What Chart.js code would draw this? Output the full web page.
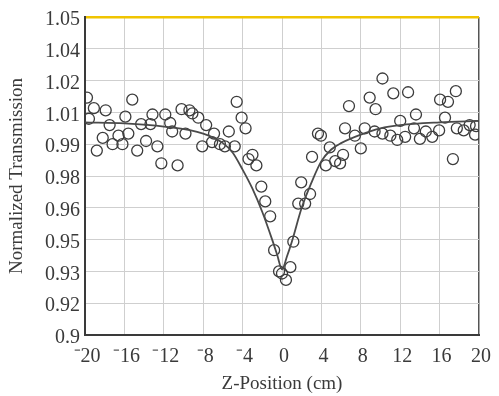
<!DOCTYPE html>
<html lang="en">
<head>
  <meta charset="UTF-8" />
  <title>Normalized Transmission vs Z-Position</title>
  <script src="https://cdn.jsdelivr.net/npm/chart.js"></script>
  <style>
    body {
      margin: 0;
      background-color: #ffffff;
    }
    canvas {
      display: block;
    }
  </style>
</head>
<body>

  <canvas id="zscanChart" width="499" height="396"></canvas>

  <script>
    // measured points (open circles)
    const zData = [
      -19.8, -19.1, -17.9, -19.6, -15.2, -15.9, -17.5, -18.2, -18.8, -17.2,
      -16.6, -16.2, -15.6, -14.7, -14.3, -13.8, -13.15, -13.35, -12.65, -12.25,
      -11.85, -11.35, -11.15, -10.6, -10.2, -9.8, -9.4, -9.1, -8.5, -7.7,
      -8.1, -6.9, -7.1, -6.3, -5.8, -5.4, -4.8, -4.6, -4.1, -3.7,
      -3.0, -3.4, -2.6, -2.1, -1.7, -1.2, -0.8, -0.3, 0.0, 0.4,
      0.85, 1.15, 1.65, 2.35, 2.85, 1.95, 3.05, 3.65, 3.95, 4.45,
      4.85, 5.4, 5.9, 6.2, 6.4, 6.8, 7.4, 8.0, 8.4, 8.9,
      9.4, 9.5, 10.2, 10.2, 11.0, 11.3, 11.7, 12.0, 12.5, 12.8,
      13.4, 13.6, 14.0, 14.6, 15.25, 15.95, 16.05, 16.85, 17.65, 16.55,
      17.35, 17.75, 18.45, 19.05, 19.6, 19.7
    ];
    const tData = [
      1.012, 1.007, 1.006, 1.002, 1.011, 1.003, 0.999, 0.993, 0.987, 0.990,
      0.994, 0.990, 0.995, 0.987, 0.9995, 0.9915, 1.004, 0.9995, 0.989, 0.981,
      1.004, 1.000, 0.996, 0.980, 1.0065, 0.995, 1.006, 1.0045, 1.0025, 0.999,
      0.989, 0.995, 0.991, 0.990, 0.989, 0.996, 0.989, 1.010, 1.0025, 0.9975,
      0.985, 0.983, 0.980, 0.970, 0.963, 0.956, 0.940, 0.930, 0.929, 0.926,
      0.932, 0.944, 0.962, 0.962, 0.9665, 0.972, 0.984, 0.995, 0.994, 0.980,
      0.9885, 0.982, 0.981, 0.985, 0.9975, 1.008, 0.994, 0.988, 0.9975, 1.012,
      0.996, 1.0065, 1.021, 0.995, 0.994, 1.014, 0.992, 1.001, 0.9935, 1.0145,
      0.9975, 1.004, 0.9925, 0.996, 0.9935, 0.9965, 1.011, 1.010, 1.015, 1.0025,
      0.983, 0.9975, 0.9965, 0.999, 0.9945, 0.9985
    ];

    // fitted curve
    const zFit = [-20, -16, -12, -8, -6, -5, -4, -3, -2, -1, -0.5, 0, 0.5, 1, 2, 3, 4, 5, 6, 8, 10, 12, 16, 20];
    const tFit = [1.0003, 0.9998, 0.9983, 0.995, 0.9905, 0.986, 0.978, 0.969, 0.958, 0.945, 0.938, 0.931,
                  0.937, 0.944, 0.960, 0.972, 0.982, 0.9875, 0.9905, 0.9945, 0.9975, 0.999, 1.0003, 1.001];

    const xTickLabels = ['\u207B20', '\u207B16', '\u207B12', '\u207B8', '\u207B4', '0', '4', '8', '12', '16', '20'];
    const yTickLabels = ['0.9', '0.92', '0.93', '0.95', '0.96', '0.98', '0.99', '1.01', '1.02', '1.04', '1.05'];

    const serif = 'Liberation Serif';
    const inkColor = '#3a3a3a';

    const ctx = document.getElementById('zscanChart').getContext('2d');

    new Chart(ctx, {
      type: 'scatter',
      data: {
        datasets: [
          {
            label: 'fit',
            data: zFit.map((z, i) => ({ x: z, y: tFit[i] })),
            showLine: true,
            pointRadius: 0,
            borderColor: '#4a4a4a',
            borderWidth: 1.8,
            cubicInterpolationMode: 'monotone',
            fill: false
          },
          {
            label: 'data',
            data: zData.map((z, i) => ({ x: z, y: tData[i] })),
            pointRadius: 5.5,
            pointBorderWidth: 1.3,
            borderColor: '#3c3c3c',
            backgroundColor: 'rgba(0,0,0,0)'
          }
        ]
      },
      options: {
        responsive: false,
        animation: false,
        layout: { padding: { top: 17, right: 17, left: 0, bottom: 0 } },
        plugins: {
          legend: { display: false },
          tooltip: { enabled: false }
        },
        scales: {
          x: {
            type: 'linear',
            min: -20,
            max: 20,
            afterFit: (scale) => { scale.height = 61; },
            ticks: {
              stepSize: 4,
              padding: 10,
              labelOffset: 2,
              color: inkColor,
              font: { family: serif, size: 20 },
              callback: (value, index) => xTickLabels[index]
            },
            grid: {
              drawTicks: false,
              color: (c) => c.tick && c.tick.value === 20 ? '#555555' : '#cfcfcf',
              lineWidth: (c) => c.tick && c.tick.value === 20 ? 1.5 : 1
            },
            border: { display: true, color: '#3a3a3a', width: 2 },
            title: {
              display: true,
              text: 'Z-Position (cm)',
              color: inkColor,
              font: { family: serif, size: 19 },
              padding: { top: 0, bottom: 1 }
            }
          },
          y: {
            min: 0.9,
            max: 1.05,
            afterFit: (scale) => { scale.width = 85; },
            ticks: {
              stepSize: 0.015,
              padding: 5,
              labelOffset: 3,
              color: inkColor,
              font: { family: serif, size: 20 },
              callback: (value, index) => yTickLabels[index]
            },
            grid: {
              drawTicks: false,
              color: (c) => c.tick && c.index === yTickLabels.length - 1 ? '#f0c400' : '#cfcfcf',
              lineWidth: (c) => c.tick && c.index === yTickLabels.length - 1 ? 2.5 : 1
            },
            border: { display: true, color: '#3a3a3a', width: 2 },
            title: {
              display: true,
              text: 'Normalized Transmission',
              color: inkColor,
              font: { family: serif, size: 19 },
              padding: { top: 6, bottom: 0 }
            }
          }
        }
      }
    });
  </script>

</body>
</html>
